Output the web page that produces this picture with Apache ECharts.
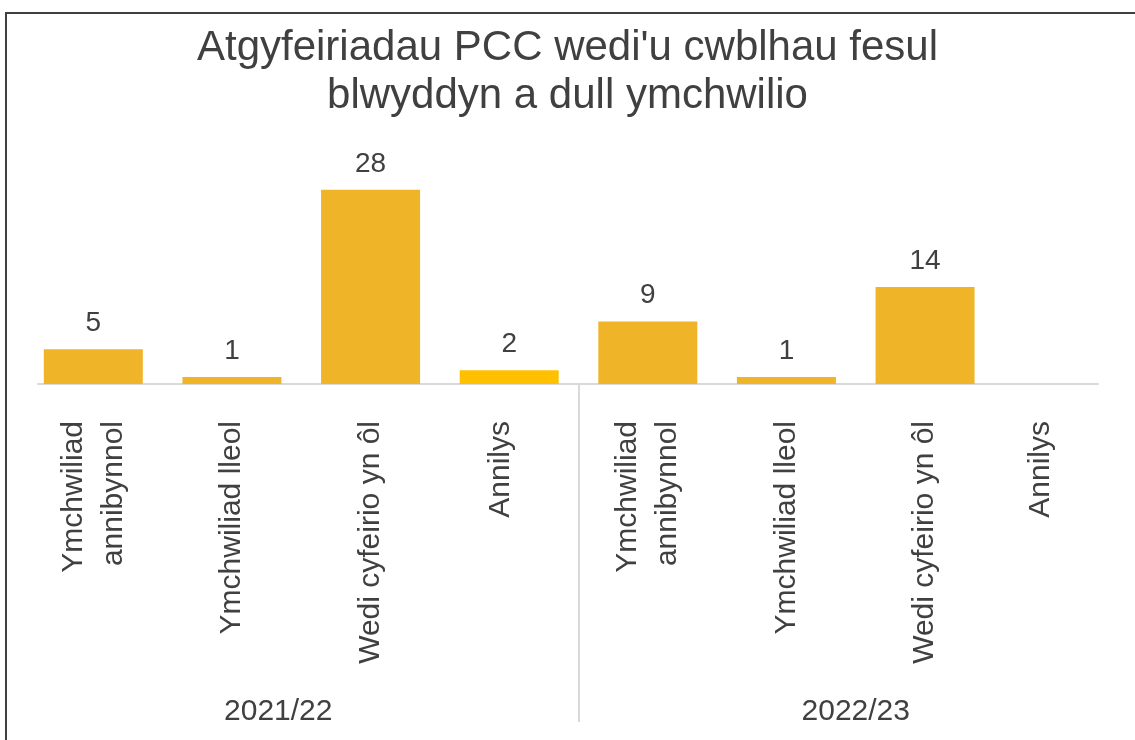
<!DOCTYPE html>
<html>
<head>
<meta charset="utf-8">
<script src="https://cdn.jsdelivr.net/npm/echarts@6/dist/echarts.min.js"></script>
<style>
html,body{margin:0;padding:0;background:#fff;}
#main{width:1135px;height:740px;}
</style>
</head>
<body>
<div id="main"></div>
<script>
// categories and values per year
let methods = ['Ymchwiliad\nannibynnol', 'Ymchwiliad lleol', 'Wedi cyfeirio yn ôl', 'Annilys'];
let years = ['2021/22', '2022/23'];
let vals2122 = [5, 1, 28, 2];
let vals2223 = [9, 1, 14, null];

let barColor = '#F0B428';
let oddColor = '#FFC000'; // Annilys 2021/22 is a brighter yellow
let txt = '#404040';
let font = 'Liberation Sans';

let cats = methods.concat(methods);
let barData = [];
for (let i = 0; i < vals2122.length; i++) {
    barData.push({value: vals2122[i], itemStyle: {color: i == 3 ? oddColor : barColor}});
}
for (let i = 0; i < vals2223.length; i++) {
    barData.push({value: vals2223[i], itemStyle: {color: barColor}});
}

let chart = echarts.init(document.getElementById('main'));
chart.setOption({
    animation: false,
    textStyle: {fontFamily: font},
    title: {
        text: "Atgyfeiriadau PCC wedi'u cwblhau fesul\nblwyddyn a dull ymchwilio",
        left: 'center',
        top: 24,
        padding: 0,
        textStyle: {fontSize: 42, lineHeight: 48, fontWeight: 'normal', color: txt, fontFamily: font}
    },
    graphic: [{
        type: 'rect',
        shape: {x: 6, y: 13, width: 1200, height: 800},
        style: {fill: 'none', stroke: txt, lineWidth: 2},
        silent: true
    }],
    grid: [
        {left: 24, right: 2, top: 176, bottom: 356},
        {left: 24, right: 2, top: 384, bottom: 18},
        {left: 38, right: 37, top: 300, bottom: 356}
    ],
    xAxis: [
        {
            type: 'category',
            gridIndex: 0,
            data: cats,
            axisLine: {show: false},
            axisTick: {show: false},
            axisLabel: {
                interval: 0,
                rotate: 90,
                margin: 37,
                fontSize: 30,
                lineHeight: 40,
                color: txt,
                fontFamily: font,
                formatter: function(v, i){
                    // the short last labels sit a little left of the bar centre
                    if (i == 3) return '{s|' + v + '}';
                    if (i == 7) return '{l|' + v + '}';
                    return v;
                },
                rich: {
                    s: {fontSize: 30, color: txt, fontFamily: font, padding: [0, 0, 16, 0]},
                    l: {fontSize: 30, color: txt, fontFamily: font, padding: [0, 0, 46, 0]}
                }
            }
        },
        {
            type: 'category',
            gridIndex: 1,
            data: years,
            offset: -25,
            axisLine: {show: false},
            axisTick: {show: false},
            splitLine: {show: true, showMinLine: false, showMaxLine: false, lineStyle: {color: '#D9D9D9', width: 2}},
            axisLabel: {
                margin: 0,
                fontSize: 30,
                color: txt,
                fontFamily: font,
                formatter: function(v, i){
                    return i == 0 ? '{a|' + v + '}' : v;
                },
                rich: {a: {fontSize: 30, color: txt, fontFamily: font, padding: [0, 46, 0, 0]}}
            }
        },
        {
            type: 'value',
            gridIndex: 2,
            axisLine: {show: true, lineStyle: {color: '#D9D9D9', width: 2}},
            axisTick: {show: false},
            axisLabel: {show: false},
            splitLine: {show: false}
        }
    ],
    yAxis: [
        {type: 'value', gridIndex: 0, min: 0, max: 30, show: false},
        {type: 'value', gridIndex: 1, show: false},
        {type: 'value', gridIndex: 2, show: false}
    ],
    series: [{
        type: 'bar',
        xAxisIndex: 0,
        yAxisIndex: 0,
        barWidth: 99,
        z: 3,
        data: barData,
        label: {
            show: true,
            position: 'top',
            distance: 12,
            fontSize: 28,
            color: txt,
            fontFamily: font
        }
    }]
});
</script>
</body>
</html>
